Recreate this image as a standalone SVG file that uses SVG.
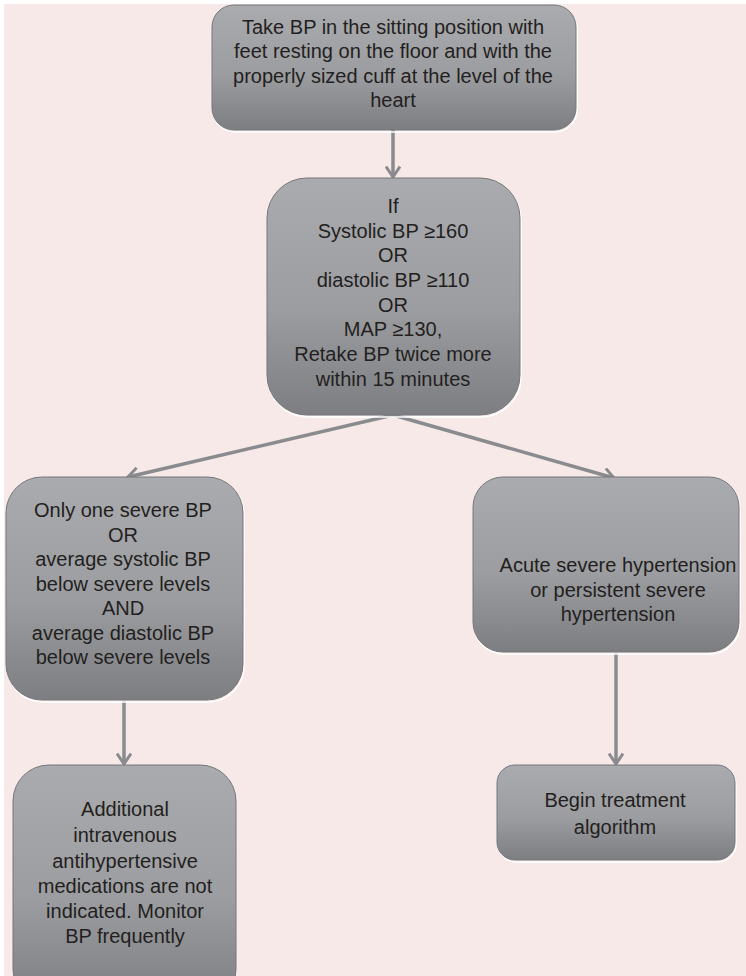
<svg xmlns="http://www.w3.org/2000/svg" width="746" height="976" viewBox="0 0 746 976">
  <defs>
    <linearGradient id="boxFill" x1="0" y1="0" x2="0" y2="1">
      <stop offset="0" stop-color="#aaabae"/>
      <stop offset="0.55" stop-color="#9c9da0"/>
      <stop offset="1" stop-color="#7d7e81"/>
    </linearGradient>
    <marker id="chevron" viewBox="0 0 14 16" refX="12" refY="8" markerWidth="14" markerHeight="16" markerUnits="userSpaceOnUse" orient="auto">
      <polyline points="1.5,1 12,8 1.5,15" fill="none" stroke="#8a8b8e" stroke-width="3"/>
    </marker>
  </defs>
  <style>
    .box { fill: url(#boxFill); stroke: #76777a; stroke-width: 1; }
    .glow { fill: none; stroke: #ffffff; stroke-width: 1.5; }
    .label { font-family: "Liberation Sans", Arial, sans-serif; font-size: 20px; fill: #231f20; text-anchor: middle; }
    .link { stroke: #8a8b8e; stroke-width: 3.5; fill: none; marker-end: url(#chevron); }
  </style>

  <rect x="0" y="0" width="746" height="976" fill="#ffffff"/>
  <rect x="4" y="4" width="742" height="972" fill="#f7e9e8"/>

  <g id="connectors">
    <line class="link" x1="393" y1="130" x2="393" y2="177"/>
    <line class="link" x1="393" y1="415" x2="128" y2="477"/>
    <line class="link" x1="393" y1="415" x2="614" y2="478"/>
    <line class="link" x1="124" y1="701" x2="124" y2="764"/>
    <line class="link" x1="616" y1="653" x2="616" y2="764"/>
  </g>

  <g id="measure">
    <rect class="glow" x="213" y="7" width="364" height="125" rx="22"/>
    <rect class="box" x="212" y="5" width="364" height="125" rx="22"/>
    <text class="label" x="393" y="34">Take BP in the sitting position with</text>
    <text class="label" x="393" y="58">feet resting on the floor and with the</text>
    <text class="label" x="393" y="83">properly sized cuff at the level of the</text>
    <text class="label" x="393" y="107">heart</text>
  </g>

  <g id="check">
    <rect class="glow" x="268" y="180" width="253" height="237" rx="40"/>
    <rect class="box" x="267" y="178" width="253" height="237" rx="40"/>
    <text class="label" x="393" y="213">If</text>
    <text class="label" x="393" y="238">Systolic BP ≥160</text>
    <text class="label" x="393" y="262">OR</text>
    <text class="label" x="393" y="287">diastolic BP ≥110</text>
    <text class="label" x="393" y="312">OR</text>
    <text class="label" x="393" y="336">MAP ≥130,</text>
    <text class="label" x="393" y="361">Retake BP twice more</text>
    <text class="label" x="393" y="386">within 15 minutes</text>
  </g>

  <g id="not-severe">
    <rect class="glow" x="7" y="479" width="237" height="223" rx="36"/>
    <rect class="box" x="6" y="477" width="237" height="223" rx="36"/>
    <text class="label" x="123" y="517">Only one severe BP</text>
    <text class="label" x="123" y="542">OR</text>
    <text class="label" x="123" y="566">average systolic BP</text>
    <text class="label" x="123" y="591">below severe levels</text>
    <text class="label" x="123" y="615">AND</text>
    <text class="label" x="123" y="640">average diastolic BP</text>
    <text class="label" x="123" y="664">below severe levels</text>
  </g>

  <g id="severe">
    <rect class="glow" x="474" y="479" width="266" height="175" rx="30"/>
    <rect class="box" x="473" y="477" width="266" height="175" rx="30"/>
    <text class="label" x="618" y="572">Acute severe hypertension</text>
    <text class="label" x="618" y="597">or persistent severe</text>
    <text class="label" x="618" y="621">hypertension</text>
  </g>

  <g id="monitor">
    <rect class="box" x="13" y="765" width="223" height="240" rx="36"/>
    <text class="label" x="125" y="816">Additional</text>
    <text class="label" x="125" y="842">intravenous</text>
    <text class="label" x="125" y="868">antihypertensive</text>
    <text class="label" x="125" y="893">medications are not</text>
    <text class="label" x="125" y="918">indicated. Monitor</text>
    <text class="label" x="125" y="943">BP frequently</text>
  </g>

  <g id="treatment">
    <rect class="glow" x="498" y="767" width="238" height="95" rx="18"/>
    <rect class="box" x="497" y="765" width="238" height="95" rx="18"/>
    <text class="label" x="615" y="807">Begin treatment</text>
    <text class="label" x="615" y="834">algorithm</text>
  </g>
</svg>
